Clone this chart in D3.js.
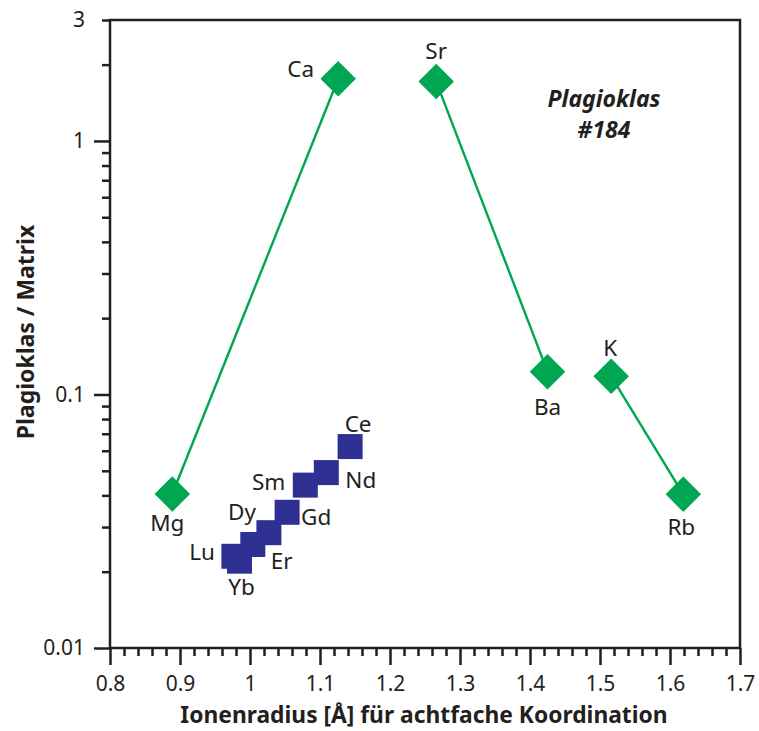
<!DOCTYPE html>
<html>
<head>
<meta charset="utf-8">
<script src="https://cdn.jsdelivr.net/npm/d3@7"></script>
<style>
  body { margin: 0; background: #fff; }
  text { font-family: "Noto Sans", sans-serif; fill: #231f20; }
</style>
</head>
<body>
<svg id="chart" width="759" height="731"></svg>
<script>

// Hauptelemente (Kationen im Feldspat)
var mainNames  = ["Mg", "Ca", "Sr", "Ba", "K", "Rb"];
var mainRadius = [0.889, 1.126, 1.266, 1.425, 1.516, 1.619];
var mainRatio  = [0.0405, 1.76, 1.715, 0.123, 0.118, 0.0404];
// welche Punkte verbunden sind
var mainLinks  = [["Mg", "Ca"], ["Sr", "Ba"], ["K", "Rb"]];

// Seltene Erden
var reeNames  = ["Ce", "Nd", "Sm", "Gd", "Dy", "Er", "Yb", "Lu"];
var reeRadius = [1.143, 1.109, 1.079, 1.053, 1.027, 1.004, 0.985, 0.977];
var reeRatio  = [0.0623, 0.0492, 0.0439, 0.0343, 0.0285, 0.0256, 0.0220, 0.0230];

// Achsen
var xTickValues = [0.8, 0.9, 1.0, 1.1, 1.2, 1.3, 1.4, 1.5, 1.6, 1.7];
var xTickLabels = ["0.8", "0.9", "1", "1.1", "1.2", "1.3", "1.4", "1.5", "1.6", "1.7"];
var yTickValues = [0.01, 0.1, 1, 3];
var yTickLabels = ["0.01", "0.1", "1", "3"];

// Beschriftung neben den Symbolen: [dx, dy, anchor]
var labelPos = {
  Mg: [-5, 37, "middle"], Ca: [-24, -2, "end"], Sr: [0, -23, "middle"],
  Ba: [0, 43, "middle"], K: [-1, -20, "middle"], Rb: [-2, 41, "middle"],
  Ce: [8, -15, "middle"], Nd: [19, 15, "start"], Sm: [-20, 5, "end"],
  Gd: [14, 13, "start"], Dy: [-13, -13, "end"], Er: [18, 24, "start"],
  Yb: [2, 34, "middle"], Lu: [-19, 4, "end"]
};

var svg = d3.select("#chart");
var ink = "#231f20";
var green = "#00a651";
var blue = "#2e3192";

var x = d3.scaleLinear().domain([0.8, 1.7]).range([110, 740]);
var y = d3.scaleLog().domain([0.01, 3]).range([648, 20]);

// Rahmen
svg.append("rect")
  .attr("x", x(0.8)).attr("y", y(3))
  .attr("width", x(1.7) - x(0.8)).attr("height", y(0.01) - y(3))
  .attr("fill", "none").attr("stroke", ink).attr("stroke-width", 2.5);

// X axis - minor ticks every 0.02
var xMinor = d3.range(0, 46).map(function (i) { return 0.8 + i * 0.02; })
  .filter(function (v, i) { return i % 5 != 0; });
svg.append("g")
  .attr("transform", "translate(0," + y(0.01) + ")")
  .call(d3.axisBottom(x).tickValues(xMinor).tickSize(8).tickFormat(""))
  .call(function (g) { g.select(".domain").remove(); });

svg.append("g")
  .attr("transform", "translate(0," + y(0.01) + ")")
  .call(d3.axisBottom(x).tickValues(xTickValues).tickSize(17).tickPadding(11)
    .tickFormat(function (d, i) { return xTickLabels[i]; }))
  .call(function (g) { g.select(".domain").remove(); });

// Y axis - minor ticks 2..9 per decade
var yMinor = [];
[0.01, 0.1, 1].forEach(function (dec) {
  d3.range(2, 10).forEach(function (m) {
    var v = dec * m;
    if (v < 3.01 && Math.abs(v - 3) > 1e-9) yMinor.push(v);
  });
});
svg.append("g")
  .attr("transform", "translate(" + x(0.8) + ",0)")
  .call(d3.axisLeft(y).tickValues(yMinor).tickSize(8).tickFormat(""))
  .call(function (g) { g.select(".domain").remove(); });

svg.append("g")
  .attr("transform", "translate(" + x(0.8) + ",0)")
  .call(d3.axisLeft(y).tickValues(yTickValues).tickSize(16).tickPadding(9)
    .tickFormat(function (d, i) { return yTickLabels[i]; }))
  .call(function (g) {
    g.select(".domain").remove();
    // 3 steht nur an einem kurzen Strich
    g.selectAll(".tick").filter(function (d) { return d == 3; })
      .select("line").attr("x2", -8);
  });

svg.selectAll(".tick line").attr("stroke", ink).attr("stroke-width", 2.5);
svg.selectAll(".tick text")
  .style("font-size", "21px")
  .style("font-family", "'Noto Sans', sans-serif")
  .attr("fill", ink);

// Achsentitel
svg.append("text")
  .attr("x", (x(0.8) + x(1.7)) / 2 - 1)
  .attr("y", 723)
  .attr("text-anchor", "middle")
  .style("font-size", "22.8px")
  .style("font-weight", "bold")
  .text("Ionenradius [Å] für achtfache Koordination");

svg.append("text")
  .attr("transform", "translate(34," + 332 + ") rotate(-90)")
  .attr("text-anchor", "middle")
  .style("font-size", "23px")
  .style("font-weight", "bold")
  .text("Plagioklas / Matrix");

// Probenbezeichnung
var title = svg.append("text")
  .attr("text-anchor", "middle")
  .style("font-size", "23px")
  .style("font-weight", "bold")
  .style("font-style", "italic");
title.append("tspan").attr("x", 604).attr("y", 107).text("Plagioklas");
title.append("tspan").attr("x", 604).attr("y", 138).text("#184");

// Daten
var mainData = mainNames.map(function (n, i) {
  return { name: n, r: mainRadius[i], v: mainRatio[i] };
});
var reeData = reeNames.map(function (n, i) {
  return { name: n, r: reeRadius[i], v: reeRatio[i] };
});
var byName = {};
mainData.forEach(function (d) { byName[d.name] = d; });

// Verbindungslinien
var line = d3.line()
  .x(function (d) { return x(d.r); })
  .y(function (d) { return y(d.v); });
svg.append("g")
  .selectAll("path")
  .data(mainLinks)
  .enter()
  .append("path")
  .attr("d", function (p) { return line([byName[p[0]], byName[p[1]]]); })
  .attr("fill", "none")
  .attr("stroke", green)
  .attr("stroke-width", 2.4);

// Rauten
svg.append("g")
  .selectAll("path")
  .data(mainData)
  .enter()
  .append("path")
  .attr("d", d3.symbol().type(d3.symbolSquare).size(630))
  .attr("transform", function (d) {
    return "translate(" + x(d.r) + "," + y(d.v) + ") rotate(45)";
  })
  .attr("fill", green);

// Quadrate (SEE)
svg.append("g")
  .selectAll("path")
  .data(reeData)
  .enter()
  .append("path")
  .attr("d", d3.symbol().type(d3.symbolSquare).size(625))
  .attr("transform", function (d) {
    return "translate(" + x(d.r) + "," + y(d.v) + ")";
  })
  .attr("fill", blue);

// Elementnamen
svg.append("g")
  .selectAll("text")
  .data(mainData.concat(reeData))
  .enter()
  .append("text")
  .attr("x", function (d) { return x(d.r) + labelPos[d.name][0]; })
  .attr("y", function (d) { return y(d.v) + labelPos[d.name][1]; })
  .attr("text-anchor", function (d) { return labelPos[d.name][2]; })
  .style("font-size", "22.5px")
  .text(function (d) { return d.name; });

</script>
</body>
</html>
